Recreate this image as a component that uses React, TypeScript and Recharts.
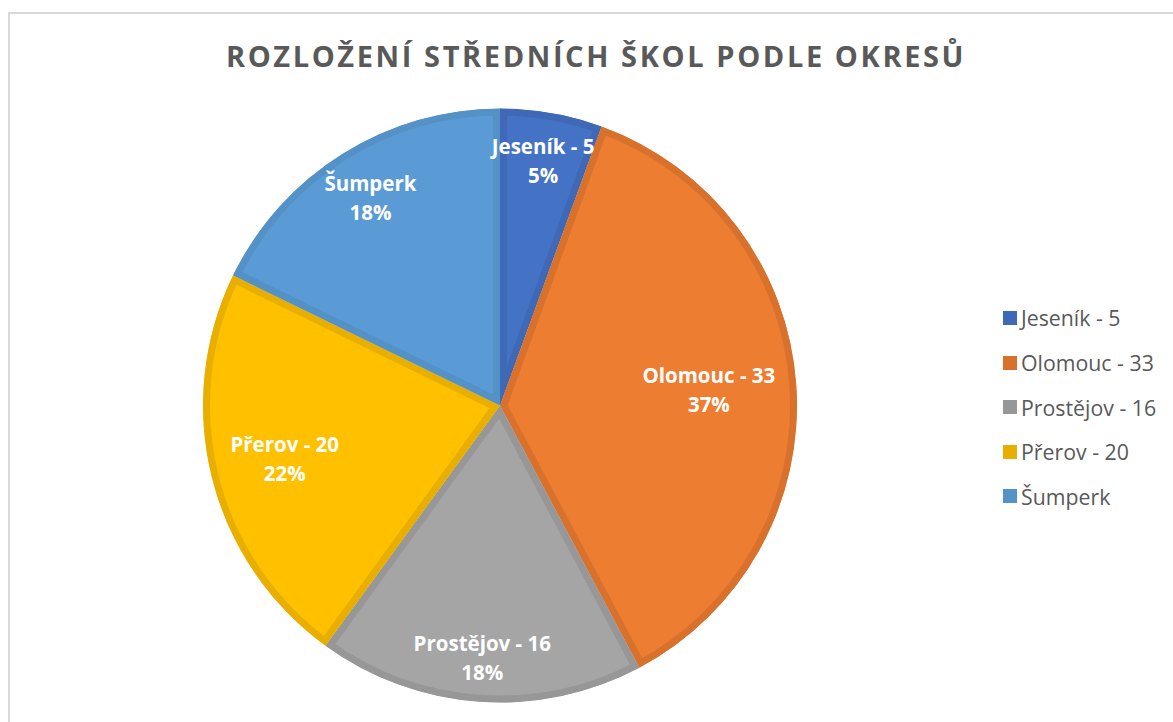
import React from "react";
import { PieChart, Pie, Cell, Legend, Sector } from "recharts";

const categories = ["Jeseník - 5", "Olomouc - 33", "Prostějov - 16", "Přerov - 20", "Šumperk"];
const schools = [5, 33, 16, 20, 16];
const percentLabels = ["5%", "37%", "18%", "22%", "18%"];

const fills = ["#4472C4", "#ED7D31", "#A5A5A5", "#FFC000", "#5B9BD5"];
const borders = ["#3F69B6", "#D8712C", "#979797", "#E8AF00", "#5391C6"];
// label distance from centre, as a share of the radius (Excel "best fit")
const labelRadius = [0.835, 0.705, 0.855, 0.747, 0.823];

const data = categories.map((name, i) => ({ name, value: schools[i] }));

const FONT = "'Open Sans', sans-serif";
const RAD = Math.PI / 180;

const BorderedSlice = (props: any) => {
  const { cx, cy, innerRadius, outerRadius, startAngle, endAngle } = props;
  const i = categories.indexOf(props.name);
  const id = `slice-clip-${i}`;
  const geom = { cx, cy, innerRadius, outerRadius, startAngle, endAngle };
  return (
    <g>
      <defs>
        <clipPath id={id}>
          <Sector {...geom} />
        </clipPath>
      </defs>
      <Sector
        {...geom}
        fill={fills[i]}
        stroke={borders[i]}
        strokeWidth={14}
        strokeLinejoin="round"
        clipPath={`url(#${id})`}
      />
    </g>
  );
};

const renderLabel = (props: any) => {
  const { cx, cy, midAngle, outerRadius, index } = props;
  const r = outerRadius * labelRadius[index];
  const x = cx + r * Math.cos(-midAngle * RAD);
  const y = cy + r * Math.sin(-midAngle * RAD);
  return (
    <text fill="#FFFFFF" textAnchor="middle" fontFamily={FONT} fontWeight={700} fontSize={20.5}>
      <tspan x={x} y={y - 7.5}>{categories[index]}</tspan>
      <tspan x={x} y={y + 21.5}>{percentLabels[index]}</tspan>
    </text>
  );
};

const renderLegend = (props: any) => {
  const items = props.payload?.length ? props.payload.map((p: any) => p.value) : categories;
  return (
    <div style={{ fontFamily: FONT }}>
      {items.map((name: string, i: number) => (
        <div key={name} style={{ display: "flex", alignItems: "center", height: 44.6 }}>
          <span style={{ width: 14, height: 14, background: borders[i], marginRight: 4, flex: "none" }} />
          <span style={{ fontSize: 21.3, color: "#595959", whiteSpace: "nowrap" }}>{name}</span>
        </div>
      ))}
    </div>
  );
};

export default function App() {
  return (
    <div style={{ position: "fixed", left: 8, top: 12, width: 1165, height: 710, overflow: "hidden" }}>
      <div
        style={{
          position: "relative",
          boxSizing: "border-box",
          width: 1176,
          height: 720,
          border: "2px solid #D9D9D9",
          background: "#FFFFFF",
        }}
      >
        <div
          style={{
            position: "absolute",
            top: 27,
            left: 0,
            width: "100%",
            textAlign: "center",
            fontFamily: FONT,
            fontWeight: 700,
            fontSize: 29,
            lineHeight: "29px",
            letterSpacing: 2.6,
            color: "#595959",
            zIndex: 1,
          }}
        >
          ROZLOŽENÍ STŘEDNÍCH ŠKOL PODLE OKRESŮ
        </div>
        <PieChart width={1172} height={716}>
          <Pie
            data={data}
            dataKey="value"
            nameKey="name"
            cx={485}
            cy={386.5}
            outerRadius={297}
            startAngle={90}
            endAngle={-270}
            stroke="none"
            shape={BorderedSlice}
            label={renderLabel}
            labelLine={false}
            isAnimationActive={false}
          >
            {data.map((d, i) => (
              <Cell key={d.name} fill={fills[i]} />
            ))}
          </Pie>
          <Legend
            layout="vertical"
            align="right"
            verticalAlign="middle"
            wrapperStyle={{ left: 993, top: 281.7, right: "auto", bottom: "auto", width: 170 }}
            content={renderLegend}
          />
        </PieChart>
      </div>
    </div>
  );
}
